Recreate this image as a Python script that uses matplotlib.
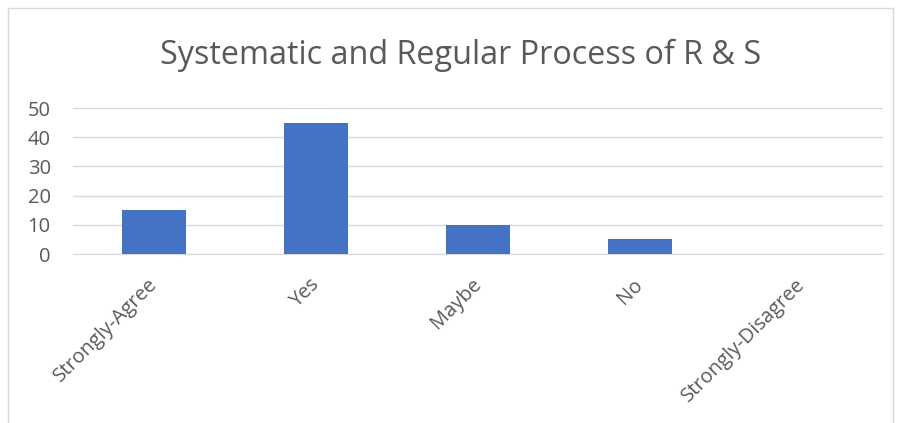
import matplotlib
matplotlib.use("Agg")
import matplotlib.pyplot as plt

categories = ["Strongly-Agree", "Yes", "Maybe", "No", "Strongly-Disagree"]
values = [15, 45, 10, 5, 0]
yticks = [0, 10, 20, 30, 40, 50]

plt.rcParams['font.family'] = ['Open Sans', 'DejaVu Sans']

fig = plt.figure(figsize=(9, 4.23), dpi=100)
ax = fig.add_axes([73 / 900, 1 - 254 / 423, 810 / 900, 146 / 423])

x = range(len(categories))
ax.bar(x, values, width=0.4, color="#4472C4", zorder=3)

ax.set_xlim(-0.5, len(categories) - 0.5)
ax.set_ylim(0, 50)
ax.set_yticks(yticks)
ax.set_yticklabels([str(t) for t in yticks], fontsize=14.5, color="#595959")
ax.set_xticks(list(x))
ax.set_xticklabels(categories, rotation=45, ha="right", va="center",
                   rotation_mode="anchor", fontsize=14.5, color="#595959")
ax.tick_params(axis="y", length=0, pad=16)
ax.tick_params(axis="x", length=0, pad=20)
ax.grid(axis="y", color="#D9D9D9", linewidth=1, zorder=0)
for s in ["top", "right", "left"]:
    ax.spines[s].set_visible(False)
ax.spines["bottom"].set_color("#D9D9D9")

fig.text(0.512, 0.87, "Systematic and Regular Process of R & S", ha="center", va="center",
         fontsize=23.3, color="#595959")

# chart border
border = plt.Rectangle((0.009, -0.05), 0.983, 1.03, transform=fig.transFigure,
                       fill=False, edgecolor="#D9D9D9", linewidth=1)
fig.patches.append(border)

fig.savefig("out.png", dpi=100)
